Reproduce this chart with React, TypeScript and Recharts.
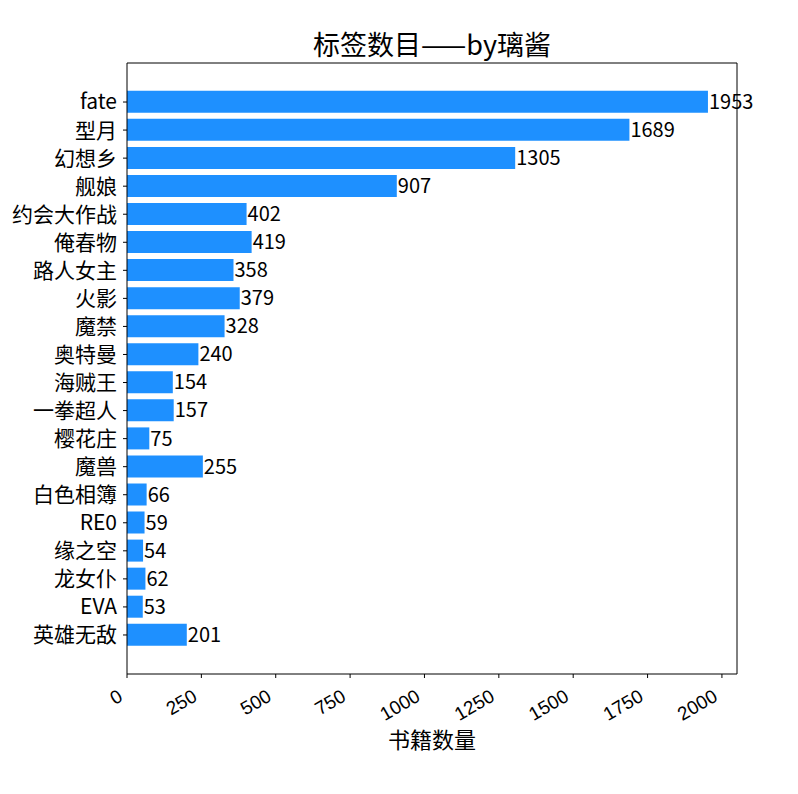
import React from "react";
import { BarChart, Bar, XAxis, YAxis, LabelList } from "recharts";

const categories = [
  "fate",
  "型月",
  "幻想乡",
  "舰娘",
  "约会大作战",
  "俺春物",
  "路人女主",
  "火影",
  "魔禁",
  "奥特曼",
  "海贼王",
  "一拳超人",
  "樱花庄",
  "魔兽",
  "白色相簿",
  "RE0",
  "缘之空",
  "龙女仆",
  "EVA",
  "英雄无敌",
];
const counts = [
  1953, 1689, 1305, 907, 402, 419, 358, 379, 328, 240, 154, 157, 75, 255, 66,
  59, 54, 62, 53, 201,
];
const xTicks = [0, 250, 500, 750, 1000, 1250, 1500, 1750, 2000];
const title = "标签数目——by璃酱";
const xLabel = "书籍数量";

const data = categories.map((name, i) => ({ name, value: counts[i] }));
const XMAX = Math.max(...counts) * 1.05;

const FONT = '"Noto Sans CJK SC", "DejaVu Sans", sans-serif';
const TICK_FONT = '"Liberation Sans", Arial, sans-serif';

const XTick = (props: any) => {
  const { x, y, payload } = props;
  const px = x - 3;
  const py = y + 22;
  return (
    <text
      x={px}
      y={py}
      transform={`rotate(-30 ${px} ${py})`}
      textAnchor="end"
      fontSize={19}
      fontFamily={TICK_FONT}
      fill="#000"
    >
      {payload.value}
    </text>
  );
};

const XLabel = (props: any) => {
  const vb = props.viewBox || { x: 127, y: 674, width: 610, height: 120 };
  return (
    <text
      x={vb.x + vb.width / 2}
      y={vb.y + 74}
      textAnchor="middle"
      fontSize={22}
      fontFamily={FONT}
      fill="#000"
    >
      {xLabel}
    </text>
  );
};

const TitleLabel = (props: any) => {
  const vb = props.viewBox || { x: 127, y: 62, width: 610, height: 1 };
  return (
    <text
      x={vb.x + vb.width / 2}
      y={vb.y - 7}
      textAnchor="middle"
      fontSize={27}
      fontFamily={FONT}
      fill="#000"
    >
      {title}
    </text>
  );
};

export default function App() {
  return (
    <div
      style={{
        position: "absolute",
        left: 0,
        top: 0,
        width: 798,
        height: 794,
        background: "#fff",
      }}
    >
      <BarChart
        width={798}
        height={794}
        layout="vertical"
        data={data}
        margin={{ top: 62, right: 60, bottom: 0, left: 0 }}
        barCategoryGap="10%"
      >
        <XAxis
          type="number"
          domain={[0, XMAX]}
          ticks={xTicks}
          interval={0}
          height={120}
          tickSize={4}
          tickMargin={0}
          stroke="#000"
          axisLine={{ stroke: "#000" }}
          tickLine={{ stroke: "#000" }}
          tick={<XTick />}
          label={XLabel}
        />
        <XAxis
          xAxisId="top"
          orientation="top"
          type="number"
          domain={[0, XMAX]}
          height={1}
          tick={false}
          tickLine={false}
          stroke="#000"
          axisLine={{ stroke: "#000" }}
          label={TitleLabel}
        />
        <YAxis
          type="category"
          dataKey="name"
          width={127}
          interval={0}
          tickSize={4}
          tickMargin={6}
          padding={{ top: 25, bottom: 25 }}
          stroke="#000"
          axisLine={{ stroke: "#000" }}
          tickLine={{ stroke: "#000" }}
          tick={{ fontSize: 21, fill: "#000", fontFamily: FONT }}
        />
        <YAxis
          yAxisId="right"
          orientation="right"
          type="category"
          dataKey="name"
          width={1}
          tick={false}
          tickLine={false}
          stroke="#000"
          axisLine={{ stroke: "#000" }}
        />
        <Bar dataKey="value" fill="#1E90FF" isAnimationActive={false}>
          <LabelList
            dataKey="value"
            position="right"
            offset={1}
            fill="#000"
            fontSize={20}
            fontFamily={FONT}
          />
        </Bar>
      </BarChart>
    </div>
  );
}
